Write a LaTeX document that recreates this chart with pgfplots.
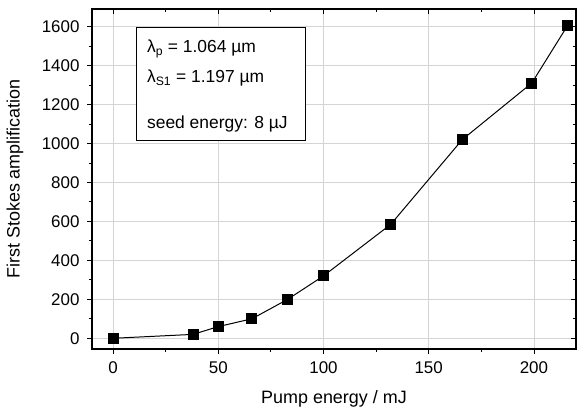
\documentclass[border=0pt]{standalone}
\usepackage{pgfplots}
\pgfplotsset{compat=1.18}
\usepackage{fontspec}
\setmainfont{Liberation Sans}
\definecolor{gridgray}{RGB}{212,212,212}
\begin{document}
\begin{tikzpicture}
\pgfplotsset{
  common/.style={
    scale only axis, width=484bp, height=340bp,
    xmin=-10, xmax=220, ymin=-55, ymax=1690,
    xtick={0,50,100,150,200}, minor x tick num=1,
    ytick={0,200,...,1600}, minor y tick num=1,
    major tick length=5bp, minor tick length=3bp,
    axis line style={line width=1.1pt},
    tick style={line width=0.8pt, black},
  }
}
\begin{axis}[common,
  name=ax,
  xtick pos=bottom, ytick pos=left, tick align=outside,
  grid=major, major grid style={gridgray, line width=0.8pt},
  /pgf/number format/assume math mode=true,
  ticklabel style={font=\fontsize{17}{19}\selectfont},
  xticklabel style={yshift=-4bp},
  yticklabel style={xshift=-4bp},
  label style={font=\fontsize{18}{21}\selectfont},
  xlabel={Pump energy / mJ},
  ylabel={First Stokes amplification},
  xlabel style={at={(axis description cs:0.5,0)}, anchor=center, yshift=-50bp},
  ylabel style={at={(axis description cs:0,0.5)}, anchor=center, yshift=77bp},
  /pgf/number format/1000 sep={},
]
\addplot[black, line width=1pt, mark=square*, mark size=5bp, mark options={solid}]
  coordinates {(0,0) (38,20) (50,60) (66,100) (83,200) (100,320) (132,585) (166,1020) (199,1310) (216,1605)};
\node[draw=black, line width=0.8pt, fill=white, anchor=north west, inner sep=0pt,
      minimum width=169bp, minimum height=113bp] (lb) at (rel axis cs:0.0907,0.947) {};
\node[anchor=north west, align=left, inner sep=0pt, font=\fontsize{17.5}{30}\selectfont]
  at ([xshift=11bp,yshift=-13bp]lb.north west)
  {λ\textsubscript{p} = 1.064 µm\\ λ\textsubscript{S1} = 1.197 µm\\[16bp] seed energy: 8 µJ};
\coordinate (bl) at (rel axis cs:0,0);
\coordinate (tr) at (rel axis cs:1,1);
\end{axis}
\begin{axis}[common,
  xtick pos=top, ytick pos=right, tick align=inside,
  xticklabels={}, yticklabels={}, axis line style={draw=none},
]
\end{axis}
\pgfresetboundingbox
\path ([xshift=-92bp,yshift=-62bp]bl) rectangle ([xshift=1bp,yshift=9bp]tr);
\end{tikzpicture}
\end{document}
